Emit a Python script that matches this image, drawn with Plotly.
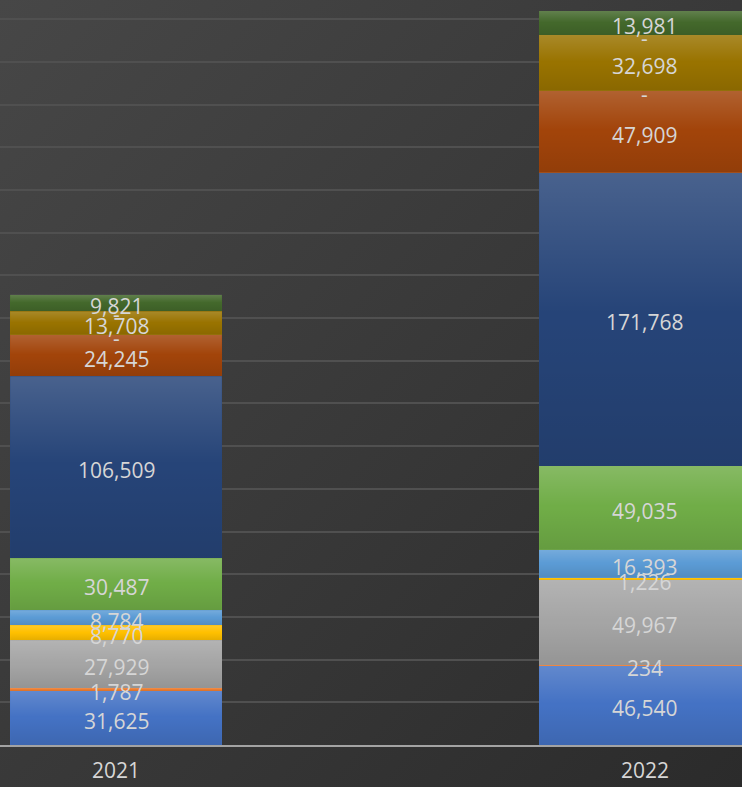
import base64
import plotly.graph_objects as go

# ---- data ----
years = ["2021", "2022"]
series_names = ["S1", "S2", "S3", "S4", "S5", "S6", "S7", "S8", "S9", "S10", "S11", "S12"]
s1 = [31625, 46540]
s2 = [1787, 234]
s3 = [27929, 49967]
s4 = [8770, 1226]
s5 = [8784, 16393]
s6 = [30487, 49035]
s7 = [106509, 171768]
s8 = [24245, 47909]
s9 = [0, 0]
s10 = [13708, 32698]
s11 = [0, 0]
s12 = [9821, 13981]
all_series = [s1, s2, s3, s4, s5, s6, s7, s8, s9, s10, s11, s12]

colors = ["#4472C4", "#ED7D31", "#A5A5A5", "#FFC000", "#5B9BD5", "#70AD47",
          "#264478", "#A2440A", "#636363", "#997300", "#255E91", "#43682B"]

BAR_W = 0.4
xpos = list(range(len(years)))

fig = go.Figure()
for name, vals, col in zip(series_names, all_series, colors):
    fig.add_trace(go.Bar(
        x=xpos, y=vals, name=name, width=BAR_W,
        marker=dict(color=col, line=dict(width=0)),
        hoverinfo="skip", showlegend=False,
    ))

# vertical shading on each stacked segment (lighter top, slightly darker bottom)
shade = [[0, "rgba(0,0,0,0.10)"], [0.5, "rgba(0,0,0,0)"],
         [0.52, "rgba(255,255,255,0)"], [1, "rgba(255,255,255,0.16)"]]
for i in xpos:
    base = 0
    for vals in all_series:
        v = vals[i]
        if v > 0:
            fig.add_trace(go.Scatter(
                x=[i - BAR_W / 2, i + BAR_W / 2, i + BAR_W / 2, i - BAR_W / 2, i - BAR_W / 2],
                y=[base, base, base + v, base + v, base],
                mode="lines", line=dict(width=0), fill="toself",
                fillgradient=dict(type="vertical", colorscale=shade),
                hoverinfo="skip", showlegend=False,
            ))
        base += v

# data labels centered in each segment ("-" for zero values)
annotations = []
for i in xpos:
    base = 0
    for vals in all_series:
        v = vals[i]
        annotations.append(dict(
            x=i, y=base + v / 2, xref="x", yref="y",
            text="-" if v == 0 else f"{v:,}", showarrow=False, yshift=-3,
            font=dict(family="Open Sans", size=21, color="#d6d6d6"),
        ))
        base += v

svg = ('<svg xmlns="http://www.w3.org/2000/svg" width="742" height="787">'
       '<defs><linearGradient id="g" x1="0" y1="0" x2="1" y2="1">'
       '<stop offset="0" stop-color="#474747"/><stop offset="1" stop-color="#2b2b2b"/>'
       '</linearGradient></defs><rect width="742" height="787" fill="url(#g)"/></svg>')
src = "data:image/svg+xml;base64," + base64.b64encode(svg.encode()).decode()

fig.update_layout(
    width=742, height=787,
    margin=dict(l=0, r=0, t=0, b=42, pad=0),
    barmode="stack",
    paper_bgcolor="#3a3a3a", plot_bgcolor="rgba(0,0,0,0)",
    images=[dict(source=src, xref="paper", yref="paper", x=0, y=1,
                 sizex=1, sizey=787 / 745, sizing="stretch", layer="below")],
    annotations=annotations,
    xaxis=dict(range=[-0.2193, 1.1834], tickvals=xpos, ticktext=years, showgrid=False,
               zeroline=False, showline=True, linecolor="#a3a3a3", linewidth=2,
               ticks="", tickfont=dict(family="Open Sans", size=21, color="#d6d6d6"),
               ticklabelstandoff=6, fixedrange=True),
    yaxis=dict(range=[0, 436200], dtick=25000, showticklabels=False,
               showgrid=True, gridcolor="#505050", gridwidth=1.5,
               zeroline=False, showline=False, ticks="", fixedrange=True),
    font=dict(family="Open Sans"),
)

fig.write_html("out.html", config={"displayModeBar": False},
               post_script="document.body.style.margin='0';")
